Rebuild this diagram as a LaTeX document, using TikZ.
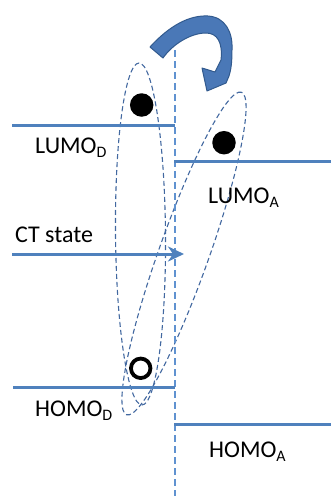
\documentclass[tikz,border=0pt]{standalone}
\usepackage{fontspec}
\setmainfont{Carlito}
\usetikzlibrary{shapes.geometric,arrows.meta}
\definecolor{levelblue}{RGB}{79,129,189}
\definecolor{guideblue}{RGB}{96,146,208}
\definecolor{cloudblue}{RGB}{66,104,160}
\definecolor{bendfill}{RGB}{74,120,183}
\definecolor{bendedge}{RGB}{50,90,142}
% energy level label with a lowered subscript
\newcommand{\lvlname}[2]{#1\raisebox{-4.5pt}{\fontsize{16}{16}\selectfont #2}}
\tikzset{
  levelline/.style={draw=levelblue, line width=3pt},
  interface/.style={draw=guideblue, line width=1.3pt, dash pattern=on 7pt off 4pt},
  orbital/.style={ellipse, draw=cloudblue, line width=1.1pt, dash pattern=on 5pt off 3pt, inner sep=0pt, outer sep=0pt},
  electron/.style={circle, fill=black, inner sep=0pt, minimum size=23.5pt},
  holestate/.style={circle, draw=black, fill=white, line width=3.8pt, inner sep=0pt, minimum size=19.5pt},
  lvltext/.style={anchor=base west, inner sep=0pt, font=\fontsize{24}{24}\selectfont},
  bendarrow/.style={fill=bendfill, draw=bendedge, line width=1pt, line join=round}
}
\begin{document}
\begin{tikzpicture}[x=1pt,y=-1pt]
\useasboundingbox (0,0) rectangle (331,496);

% orbital clouds (donor and charge-transfer)
\node[orbital, minimum width=50pt, minimum height=342pt, rotate=0.5] (donorcloud) at (140.5,234) {};
\node[orbital, minimum width=342.4pt, minimum height=50pt, rotate=70.4] (ctcloud) at (184,253.5) {};

% donor/acceptor interface
\coordinate (ifTop) at (175,50);
\coordinate (ifBot) at (175,496);
\draw[interface] (ifTop) -- (ifBot);

% energy levels
\coordinate (ldL) at (12,125);  \coordinate (ldR) at (175,125);
\coordinate (laL) at (174,161); \coordinate (laR) at (331,161);
\coordinate (ctL) at (12,254);  \coordinate (ctR) at (184,254);
\coordinate (hdL) at (13,387);  \coordinate (hdR) at (175,387);
\coordinate (haL) at (174,424); \coordinate (haR) at (331,424);
\draw[levelline] (ldL) -- (ldR);
\draw[levelline] (laL) -- (laR);
\draw[levelline, -{Stealth[length=16pt,width=15pt,inset=5pt]}] (ctL) -- (ctR);
\draw[levelline] (hdL) -- (hdR);
\draw[levelline] (haL) -- (haR);

% charge transfer arrow
\draw[bendarrow] (150,47) .. controls (170,25) and (190,15) .. (208,16)
  .. controls (225,17) and (233,32) .. (232,50)
  .. controls (232,62) and (231,70) .. (229,76)
  -- (226,83) -- (207,91) -- (202,68) -- (215,72) -- (221,60)
  .. controls (223,42) and (217,33) .. (206,33)
  .. controls (190,33) and (172,45) .. (163,58) -- cycle;

% electrons and hole
\node[electron] (eD) at (141.7,105) {};
\node[electron] (eA) at (224,142.7) {};
\node[holestate] (hD) at (140.7,368.3) {};

% labels
\node[lvltext] (tLD) at (35,153) {\lvlname{LUMO}{D}};
\node[lvltext] (tLA) at (208,203) {\lvlname{LUMO}{A}};
\node[lvltext] (tCT) at (15,242.5) {CT state};
\node[lvltext] (tHD) at (35,416) {\lvlname{HOMO}{D}};
\node[lvltext] (tHA) at (209,457) {\lvlname{HOMO}{A}};
\end{tikzpicture}
\end{document}
